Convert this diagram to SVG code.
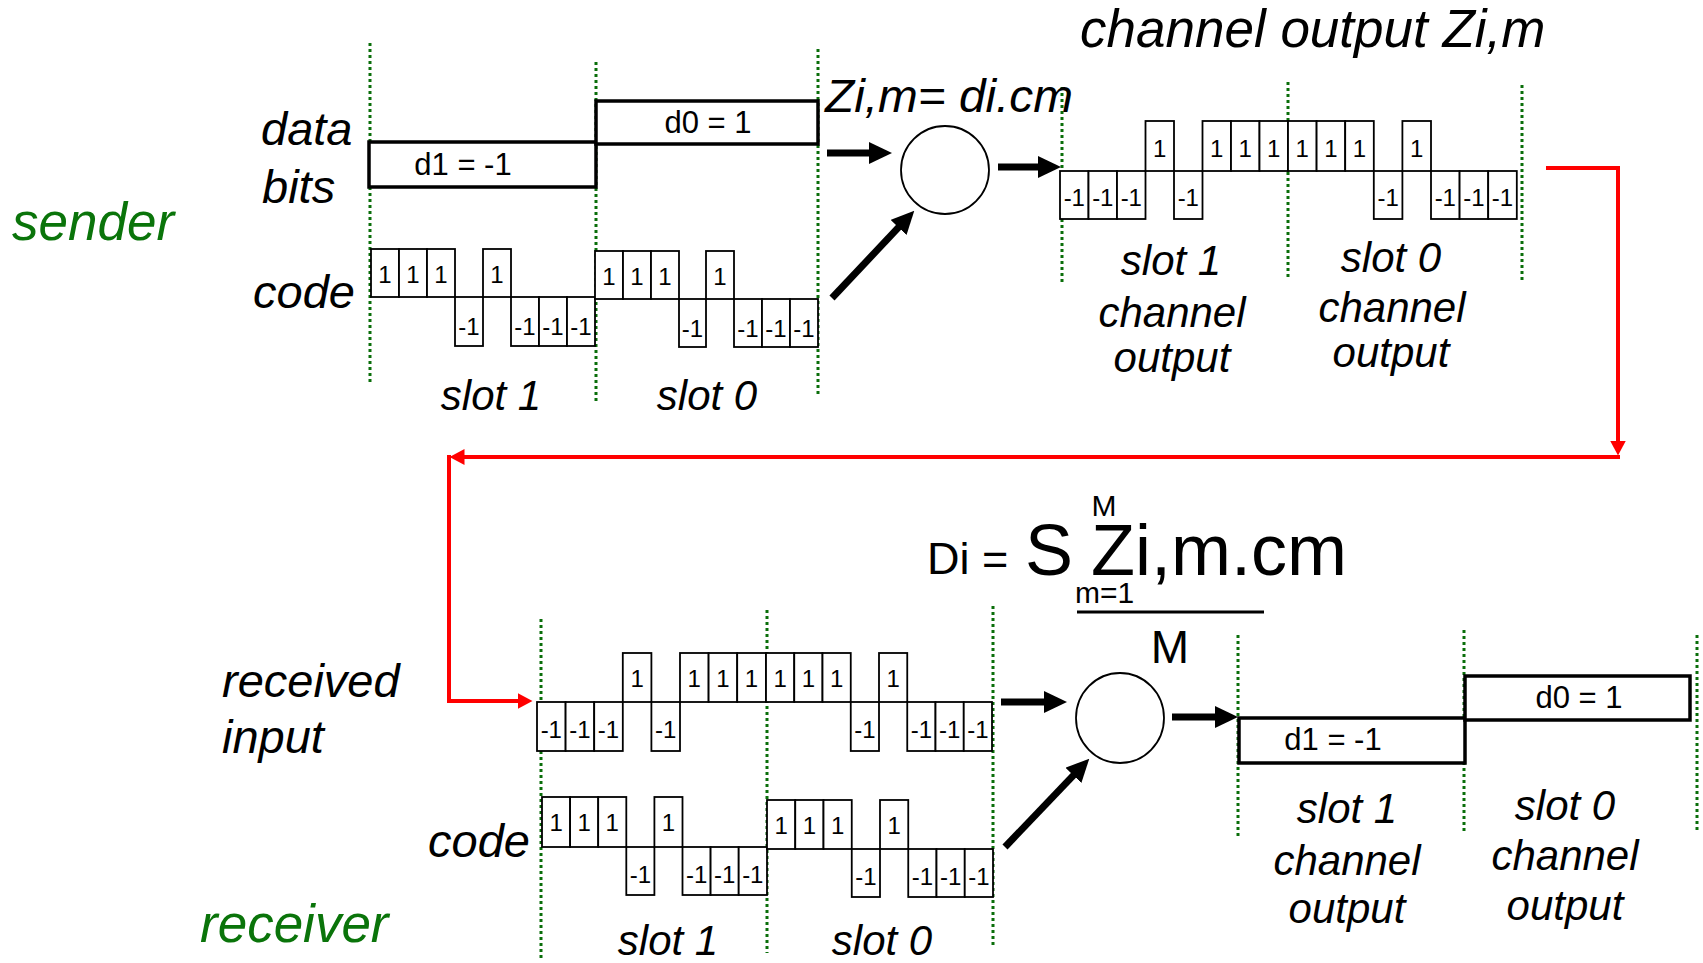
<svg xmlns="http://www.w3.org/2000/svg" width="1703" height="963" viewBox="0 0 1703 963">
<style>
text{font-family:"Liberation Sans",Arial,sans-serif}
.lbl{font-style:italic;fill:#000}
.g{fill:#0a740a}
.mid{text-anchor:middle}
.chip rect{fill:#fff;stroke:#000;stroke-width:1.8}
.chip text{font-size:24px;text-anchor:middle;fill:#000}
.data{fill:#fff;stroke:#000;stroke-width:3.5}
.dv{font-size:31px;text-anchor:middle}
.grid{stroke:#0a6e0a;stroke-width:3;stroke-dasharray:3 3;fill:none}
.arr{stroke:#000;stroke-width:7;fill:none;marker-end:url(#ah)}
.red{stroke:#f00;stroke-width:4;fill:none;marker-end:url(#rh)}
.circ{fill:#fff;stroke:#000;stroke-width:1.8}
</style>
<defs>
<marker id="ah" viewBox="0 0 23 22" refX="1" refY="11" markerWidth="23" markerHeight="22" markerUnits="userSpaceOnUse" orient="auto"><path d="M0,0 L23,11 L0,22 z" fill="#000"/></marker>
<marker id="rh" viewBox="0 0 15 16" refX="0.5" refY="8" markerWidth="15" markerHeight="16" markerUnits="userSpaceOnUse" orient="auto"><path d="M0,0 L15,8 L0,16 z" fill="#f00"/></marker>
</defs>
<rect width="1703" height="963" fill="#fff"/>

<g id="gridlines">
<path class="grid" d="M370,43V382 M596,62V402 M818,49V396 M1062,87V283 M1288,82V279 M1522,85V282 M541,619V961 M767,610V953 M993,606V945 M1238,635V836 M1464,630V831 M1697,635V831"/>
</g>

<g id="sender-labels" class="lbl">
<text x="12" y="240" font-size="53" class="lbl g">sender</text>
<text x="261" y="145" font-size="47">data</text>
<text x="262" y="203" font-size="47">bits</text>
<text x="253" y="308" font-size="47">code</text>
<text x="491" y="410" font-size="42" class="mid">slot 1</text>
<text x="707" y="410" font-size="42" class="mid">slot 0</text>
</g>

<g id="sender-data">
<rect class="data" x="369" y="142" width="227" height="45"/>
<rect class="data" x="596" y="101" width="222" height="43"/>
<text class="dv" x="463" y="175">d1 = -1</text>
<text class="dv" x="708" y="133">d0 = 1</text>
</g>

<g id="sender-code" class="chip">
<rect x="371" y="249" width="28" height="48"/><text x="385" y="283">1</text>
<rect x="399" y="249" width="28" height="48"/><text x="413" y="283">1</text>
<rect x="427" y="249" width="28" height="48"/><text x="441" y="283">1</text>
<rect x="455" y="297" width="28" height="49"/><text x="469" y="335">-1</text>
<rect x="483" y="249" width="28" height="48"/><text x="497" y="283">1</text>
<rect x="511" y="297" width="28" height="49"/><text x="525" y="335">-1</text>
<rect x="539" y="297" width="28" height="49"/><text x="553" y="335">-1</text>
<rect x="567" y="297" width="28" height="49"/><text x="581" y="335">-1</text>
<rect x="595" y="251" width="28" height="48"/><text x="609" y="285">1</text>
<rect x="623" y="251" width="28" height="48"/><text x="637" y="285">1</text>
<rect x="651" y="251" width="28" height="48"/><text x="665" y="285">1</text>
<rect x="679" y="299" width="27" height="48"/><text x="692.5" y="337">-1</text>
<rect x="706" y="251" width="28" height="48"/><text x="720" y="285">1</text>
<rect x="734" y="299" width="28" height="48"/><text x="748" y="337">-1</text>
<rect x="762" y="299" width="28" height="48"/><text x="776" y="337">-1</text>
<rect x="790" y="299" width="28" height="48"/><text x="804" y="337">-1</text>
</g>

<g id="sender-mixer">
<circle class="circ" cx="945" cy="170" r="44"/>
<text x="825" y="112" font-size="47" class="lbl" textLength="248" lengthAdjust="spacingAndGlyphs">Zi,m= di.cm</text>
</g>

<g id="channel-output">
<text x="1080" y="47" font-size="53" class="lbl">channel output Zi,m</text>
<g class="chip">
<rect x="1060" y="171" width="28.5" height="48"/><text x="1074.3" y="206">-1</text>
<rect x="1088.5" y="171" width="28.5" height="48"/><text x="1102.8" y="206">-1</text>
<rect x="1117" y="171" width="28.5" height="48"/><text x="1131.3" y="206">-1</text>
<rect x="1145.5" y="121" width="28.5" height="50"/><text x="1159.8" y="157">1</text>
<rect x="1174" y="171" width="28.5" height="48"/><text x="1188.3" y="206">-1</text>
<rect x="1202.5" y="121" width="28.5" height="50"/><text x="1216.8" y="157">1</text>
<rect x="1231" y="121" width="28.5" height="50"/><text x="1245.3" y="157">1</text>
<rect x="1259.5" y="121" width="28.5" height="50"/><text x="1273.8" y="157">1</text>
<rect x="1288" y="121" width="28.6" height="50"/><text x="1302.3" y="157">1</text>
<rect x="1316.6" y="121" width="28.6" height="50"/><text x="1330.9" y="157">1</text>
<rect x="1345.2" y="121" width="28.6" height="50"/><text x="1359.5" y="157">1</text>
<rect x="1373.8" y="171" width="28.6" height="48"/><text x="1388.1" y="206">-1</text>
<rect x="1402.4" y="121" width="28.6" height="50"/><text x="1416.7" y="157">1</text>
<rect x="1431" y="171" width="28.6" height="48"/><text x="1445.3" y="206">-1</text>
<rect x="1459.6" y="171" width="28.6" height="48"/><text x="1473.9" y="206">-1</text>
<rect x="1488.2" y="171" width="28.6" height="48"/><text x="1502.5" y="206">-1</text>
</g>
<g class="lbl mid" font-size="42">
<text x="1171" y="275" class="mid">slot 1</text>
<text x="1172" y="327" class="mid">channel</text>
<text x="1172" y="372" class="mid">output</text>
<text x="1391" y="272" class="mid">slot 0</text>
<text x="1392" y="322" class="mid">channel</text>
<text x="1391" y="367" class="mid">output</text>
</g>
</g>

<g id="formula">
<text x="927" y="574" font-size="45">Di =</text>
<text x="1025" y="575" font-size="72">S</text>
<text x="1104" y="516" font-size="30" class="mid">M</text>
<text x="1091" y="575" font-size="72">Zi,m.cm</text>
<text x="1075" y="603" font-size="30">m=1</text>
<line x1="1077" y1="612" x2="1264" y2="612" stroke="#000" stroke-width="3"/>
<text x="1170" y="663" font-size="46" class="mid">M</text>
</g>

<g id="receiver-labels" class="lbl">
<text x="222" y="697" font-size="47">received</text>
<text x="222" y="753" font-size="47">input</text>
<text x="428" y="857" font-size="47">code</text>
<text x="200" y="942" font-size="53" class="lbl g">receiver</text>
<text x="668" y="955" font-size="42" class="mid">slot 1</text>
<text x="882" y="955" font-size="42" class="mid">slot 0</text>
</g>

<g id="received-input" class="chip">
<rect x="537" y="702" width="28.6" height="49"/><text x="551.3" y="738">-1</text>
<rect x="565.6" y="702" width="28.6" height="49"/><text x="579.9" y="738">-1</text>
<rect x="594.2" y="702" width="28.6" height="49"/><text x="608.5" y="738">-1</text>
<rect x="622.8" y="653" width="28.6" height="49"/><text x="637.1" y="687">1</text>
<rect x="651.4" y="702" width="28.6" height="49"/><text x="665.7" y="738">-1</text>
<rect x="680" y="653" width="28.6" height="49"/><text x="694.3" y="687">1</text>
<rect x="708.6" y="653" width="28.6" height="49"/><text x="722.9" y="687">1</text>
<rect x="737.2" y="653" width="28.8" height="49"/><text x="751.5" y="687">1</text>
<rect x="766" y="653" width="28.25" height="49"/><text x="780.1" y="687">1</text>
<rect x="794.25" y="653" width="28.25" height="49"/><text x="808.4" y="687">1</text>
<rect x="822.5" y="653" width="28.25" height="49"/><text x="836.6" y="687">1</text>
<rect x="850.75" y="702" width="28.25" height="49"/><text x="864.9" y="738">-1</text>
<rect x="879" y="653" width="28.25" height="49"/><text x="893.1" y="687">1</text>
<rect x="907.25" y="702" width="28.25" height="49"/><text x="921.4" y="738">-1</text>
<rect x="935.5" y="702" width="28.25" height="49"/><text x="949.6" y="738">-1</text>
<rect x="963.75" y="702" width="28.25" height="49"/><text x="977.9" y="738">-1</text>
</g>

<g id="receiver-code" class="chip">
<rect x="542" y="797" width="28.1" height="50"/><text x="556.1" y="831">1</text>
<rect x="570.1" y="797" width="28.1" height="50"/><text x="584.2" y="831">1</text>
<rect x="598.2" y="797" width="28.1" height="50"/><text x="612.3" y="831">1</text>
<rect x="626.3" y="847" width="28.1" height="48"/><text x="640.4" y="883">-1</text>
<rect x="654.4" y="797" width="28.1" height="50"/><text x="668.5" y="831">1</text>
<rect x="682.5" y="847" width="28.1" height="48"/><text x="696.6" y="883">-1</text>
<rect x="710.6" y="847" width="28.1" height="48"/><text x="724.7" y="883">-1</text>
<rect x="738.7" y="847" width="28.3" height="48"/><text x="752.8" y="883">-1</text>
<rect x="767" y="800" width="28.25" height="49"/><text x="781.1" y="834">1</text>
<rect x="795.25" y="800" width="28.25" height="49"/><text x="809.4" y="834">1</text>
<rect x="823.5" y="800" width="28.25" height="49"/><text x="837.6" y="834">1</text>
<rect x="851.75" y="849" width="28.25" height="48"/><text x="865.9" y="885">-1</text>
<rect x="880" y="800" width="28.25" height="49"/><text x="894.1" y="834">1</text>
<rect x="908.25" y="849" width="28.25" height="48"/><text x="922.4" y="885">-1</text>
<rect x="936.5" y="849" width="28.25" height="48"/><text x="950.6" y="885">-1</text>
<rect x="964.75" y="849" width="28.25" height="48"/><text x="978.9" y="885">-1</text>
</g>

<g id="receiver-mixer">
<ellipse class="circ" cx="1120" cy="718" rx="44" ry="45"/>
</g>

<g id="receiver-output">
<rect class="data" x="1239" y="718" width="226" height="45"/>
<rect class="data" x="1465" y="676" width="225" height="44"/>
<text class="dv" x="1333" y="750">d1 = -1</text>
<text class="dv" x="1579" y="708">d0 = 1</text>
<g class="lbl" font-size="42">
<text x="1347" y="823" class="mid">slot 1</text>
<text x="1347" y="875" class="mid">channel</text>
<text x="1347" y="923" class="mid">output</text>
<text x="1565" y="820" class="mid">slot 0</text>
<text x="1565" y="870" class="mid">channel</text>
<text x="1565" y="920" class="mid">output</text>
</g>
</g>

<g id="connectors">
<path class="arr" d="M827,153 H870"/>
<path class="arr" d="M832,298 L899.2,226.7"/>
<path class="arr" d="M998,167 H1039"/>
<path class="arr" d="M1001,702 H1045"/>
<path class="arr" d="M1005,847 L1074.1,774.6"/>
<path class="arr" d="M1172,717 H1216"/>
<path class="red" d="M1546,168 H1618 V441"/>
<path class="red" d="M1620,457 H464"/>
<path class="red" d="M449,455 V701 H518"/>
</g>
</svg>
